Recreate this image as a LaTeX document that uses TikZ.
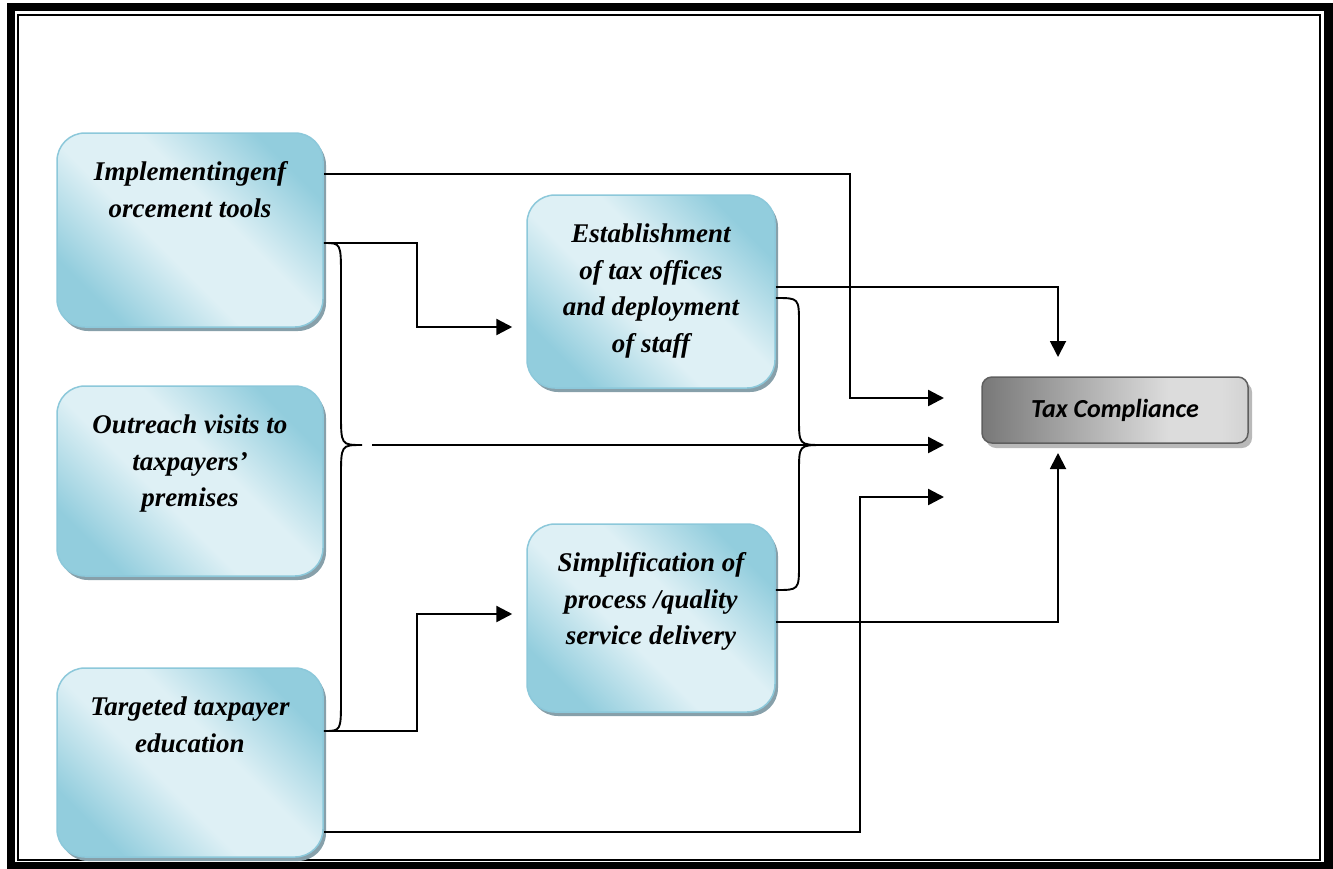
\documentclass[tikz,border=0pt]{standalone}
\usepackage{fontspec}
\setmainfont{Liberation Serif}
\newfontfamily\carl{Carlito}
\usetikzlibrary{arrows.meta,shadows,calc}
\definecolor{bdark}{RGB}{146,205,221}
\definecolor{blight}{RGB}{222,240,245}
\definecolor{bborder}{RGB}{140,200,218}
\definecolor{bshadow}{RGB}{135,160,170}
\definecolor{gdark}{RGB}{120,120,120}
\definecolor{glight}{RGB}{220,220,220}
\definecolor{gborder}{RGB}{95,95,95}
\definecolor{gshadow}{RGB}{185,185,185}
\pgfdeclareverticalshading{bluesh}{100bp}{color(0bp)=(bdark); color(25bp)=(bdark); color(43bp)=(blight); color(57bp)=(blight); color(75bp)=(bdark); color(100bp)=(bdark)}
\pgfdeclarehorizontalshading{graysh}{100bp}{color(0bp)=(gdark); color(25bp)=(gdark); color(60bp)=(glight); color(70bp)=(glight); color(100bp)=(gray!75)}
\newcommand{\boxtext}[3]{\parbox[t][#1][t]{#2}{\centering\vspace*{22pt}\strut #3}}
\begin{document}
\begin{tikzpicture}[x=1pt,y=-1pt,
  bluebox/.style={draw=bborder, line width=1.5pt, rounded corners=28pt,
    shading=bluesh, shading angle=-45,
    drop shadow={shadow xshift=3pt, shadow yshift=-4pt, fill=bshadow, opacity=1},
    inner sep=0pt, font=\fontsize{27}{36.5}\selectfont\bfseries\itshape},
  graybox/.style={draw=gborder, line width=1.5pt, rounded corners=10pt,
    shading=graysh, shading angle=0,
    drop shadow={shadow xshift=4pt, shadow yshift=-5pt, fill=gshadow, opacity=1},
    minimum width=266pt, minimum height=66pt, inner sep=0pt,
    font=\carl\fontsize{26}{30}\selectfont\bfseries\itshape},
  conn/.style={line width=2.4pt},
  thinconn/.style={line width=1.9pt},
  arr/.style={-{Triangle[length=16pt,width=16pt]}}
]
\useasboundingbox (0,0) rectangle (1333,868);
% frame
\draw[line width=8.5pt] (11,7) rectangle (1328.5,866);
\draw[line width=2pt] (18,15) rectangle (1320,860);

% boxes
\node[bluebox] (box1) at (190,230) {\boxtext{194pt}{266pt}{Implementingenf\\orcement tools}};
\node[bluebox] (box2) at (190,481) {\boxtext{190pt}{266pt}{Outreach visits to\\taxpayers’\\premises}};
\node[bluebox] (box3) at (190,762.5) {\boxtext{189pt}{266pt}{Targeted taxpayer\\education}};
\node[bluebox] (box4) at (651,291.5) {\boxtext{193pt}{248pt}{Establishment\\of tax offices\\and deployment\\of staff}};
\node[bluebox] (box5) at (651,618) {\boxtext{188pt}{248pt}{Simplification of\\process /quality\\service delivery}};
\node[graybox] (tax) at (1115,410) {Tax Compliance};

% free arrow ends
\coordinate (t1) at (944,398);
\coordinate (t2) at (944,445);
\coordinate (t3) at (944,497);
\coordinate (td) at (1058,357);
\coordinate (tu) at (1058,453);
\coordinate (m0) at (372,445);

% connectors
\draw[conn,arr] (box1.east |- 0,174) -| (850,398) -- (t1);
\draw[conn,arr,shorten >=14pt] (box1.east |- 0,243) -| (417,327) -- (box4.west |- 0,327);
\draw[thinconn] (box1.east |- 0,243) .. controls (341,243) .. (341,277) -- (341,413)
   .. controls (341,445) .. (362,445) .. controls (341,445) .. (341,477) -- (341,699)
   .. controls (341,731) .. (box3.east |- 0,731);
\draw[conn,arr] (m0) -- (t2);
\draw[thinconn] (box4.east |- 0,298) .. controls (799,298) .. (799,324) -- (799,418)
   .. controls (799,445) .. (823,445) .. controls (799,445) .. (799,472) -- (799,564)
   .. controls (799,590) .. (box5.east |- 0,590);
\draw[thinconn,arr] (box4.east |- 0,287) -| (td);
\draw[thinconn,arr] (box5.east |- 0,622) -| (tu);
\draw[conn,arr] (box3.east |- 0,832) -| (860,497) -- (t3);
\draw[conn,arr,shorten >=14pt] (box3.east |- 0,731) -| (417,614) -- (box5.west |- 0,614);
\end{tikzpicture}
\end{document}
